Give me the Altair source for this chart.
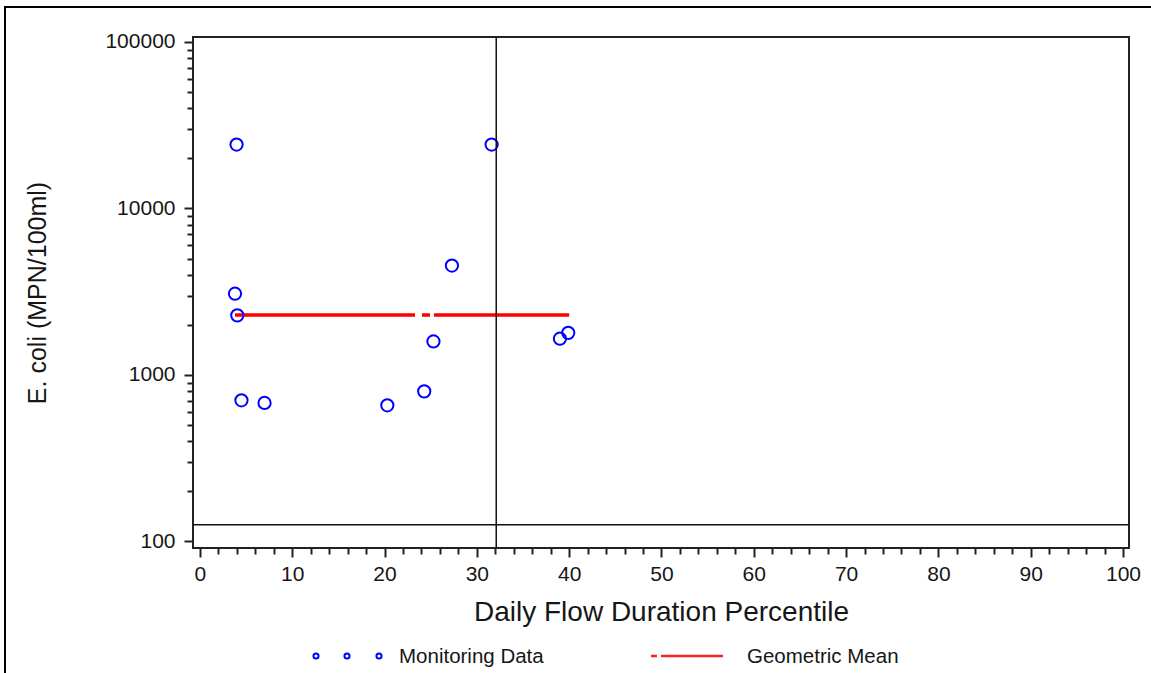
import altair as alt
import pandas as pd

# ---- data ----
flow_pct = [3.97, 31.6, 27.3, 3.8, 4.05, 25.3, 39.0, 39.9, 24.3, 4.5, 7.0, 20.3]
ecoli = [24196, 24196, 4540, 3076, 2280, 1590, 1650, 1790, 797, 704, 679, 657]
geo_x = [3.8, 40.0]
geo_y = [2290, 2290]
standard_value = [126]
flow_ref = [32.1]
x_tick_values = list(range(0, 101, 2))
y_major = [100, 1000, 10000, 100000]
y_tick_values = [m * d for d in [100, 1000, 10000] for m in range(1, 10)] + [100000]

FONT = "Liberation Sans"
TXT = "#161616"

points_df = pd.DataFrame({"x": flow_pct, "y": ecoli})
geo_df = pd.DataFrame({"x": geo_x, "y": geo_y})
vref_df = pd.DataFrame({"x": flow_ref})
href_df = pd.DataFrame({"y": standard_value})

xscale = alt.Scale(domain=[-0.75, 100.65], nice=False, zero=False)
yscale = alt.Scale(type="log", domain=[91.3, 107150], nice=False)

xaxis = alt.Axis(
    values=x_tick_values,
    labelExpr="datum.value % 10 == 0 ? datum.label : ''",
    tickSize={"condition": {"test": "datum.value % 10 == 0", "value": 9}, "value": 6},
    labelPadding=6,
    titlePadding=14,
    labelOverlap=False,
    grid=False,
    format="d",
)
yaxis = alt.Axis(
    values=y_tick_values,
    labelExpr="indexof([100,1000,10000,100000], datum.value) >= 0 ? datum.label : ''",
    tickSize={"condition": {"test": "indexof([100,1000,10000,100000], datum.value) >= 0", "value": 9}, "value": 6},
    labelPadding=9,
    titlePadding=54,
    labelOverlap=False,
    grid=False,
    format="d",
)


def X():
    return alt.X("x:Q", scale=xscale, axis=xaxis, title="Daily Flow Duration Percentile")


def Y():
    return alt.Y("y:Q", scale=yscale, axis=yaxis, title="E. coli (MPN/100ml)")


geo_line = alt.Chart(geo_df).mark_line(
    color="#ff0000", strokeWidth=3.5, strokeDash=[180, 7, 8, 4, 400], strokeCap="butt"
).encode(x=X(), y=Y())

pts = alt.Chart(points_df).mark_point(
    shape="circle", filled=False, color="#0000ff", strokeWidth=2, size=150, opacity=1
).encode(x=X(), y=Y())

vrule = alt.Chart(vref_df).mark_rule(color="#111111", strokeWidth=1.5).encode(x=X())
hrule = alt.Chart(href_df).mark_rule(color="#111111", strokeWidth=1.5).encode(y=Y())

# ---- legend and outer frame (layout decoration, pixel offsets from the plot origin) ----
OX, OY = 193, 37
one = alt.Data(values=[{"k": 1}])
LEG_Y = 656 - OY

legend_layers = []
for px in [316, 347, 379]:
    legend_layers.append(
        alt.Chart(one).mark_point(shape="circle", filled=False, color="#0000ff",
                                  strokeWidth=2, size=26, opacity=1)
        .encode(x=alt.value(px - OX), y=alt.value(LEG_Y))
    )
legend_layers.append(
    alt.Chart(one).mark_text(text="Monitoring Data", align="left", baseline="middle",
                             font=FONT, fontSize=20.5, color=TXT)
    .encode(x=alt.value(399 - OX), y=alt.value(LEG_Y + 1))
)
legend_layers.append(
    alt.Chart(one).mark_rule(color="#ff2020", strokeWidth=2.5, strokeDash=[6, 4, 70])
    .encode(x=alt.value(651 - OX), x2=alt.value(723 - OX), y=alt.value(LEG_Y))
)
legend_layers.append(
    alt.Chart(one).mark_text(text="Geometric Mean", align="left", baseline="middle",
                             font=FONT, fontSize=20.5, color=TXT)
    .encode(x=alt.value(747 - OX), y=alt.value(LEG_Y + 1))
)
frame_top = alt.Chart(one).mark_rule(color="#000000", strokeWidth=2).encode(
    x=alt.value(4 - OX), x2=alt.value(1151 - OX), y=alt.value(7 - OY))
frame_left = alt.Chart(one).mark_rule(color="#000000", strokeWidth=2).encode(
    x=alt.value(5 - OX), y=alt.value(6 - OY), y2=alt.value(673 - OY))

chart = alt.layer(
    geo_line, pts, vrule, hrule, *legend_layers, frame_top, frame_left
).properties(
    width=936,
    height=511,
    autosize="none",
    padding={"left": OX, "top": OY, "right": 22, "bottom": 125},
    background="white",
).configure_view(
    stroke="#222222", strokeWidth=2
).configure_axis(
    domain=False,
    labelFont=FONT,
    labelFontSize=21,
    labelColor=TXT,
    tickColor="#222222",
    tickWidth=2,
    titleFont=FONT,
    titleFontWeight="normal",
    titleColor=TXT,
).configure_axisX(
    titleFontSize=28,
).configure_axisY(
    titleFontSize=25,
)

chart.save("out.html", embed_options={"renderer": "svg", "actions": False})
